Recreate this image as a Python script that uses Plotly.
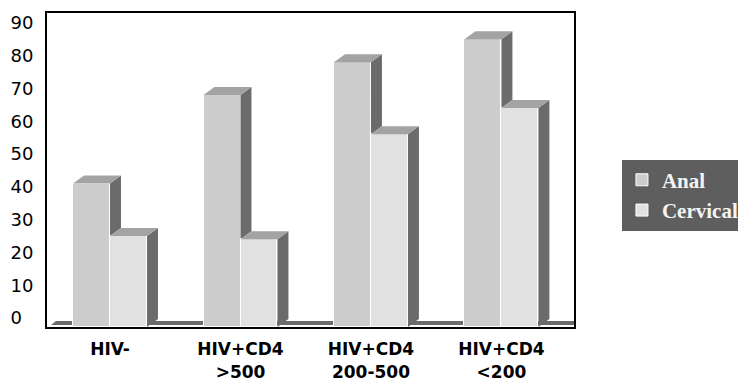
import plotly.graph_objects as go

# ---- data ----
CATEGORIES = ["HIV-", "HIV+CD4<br>&gt;500", "HIV+CD4<br>200-500", "HIV+CD4<br>&lt;200"]
ANAL = [41, 68, 78, 85]
CERVICAL = [25, 24, 56, 64]
Y_TICKS = [0, 10, 20, 30, 40, 50, 60, 70, 80, 90]
SERIES_NAMES = ["Anal", "Cervical"]

# ---- style ----
ANAL_FRONT = "#cdcdcd"
CERV_FRONT = "#e1e1e1"
SIDE = "#6b6b6b"
TOP = "#a3a3a3"
FLOOR = "#6b6b6b"
LEGEND_BG = "#5e5e5e"

Y_MIN, Y_MAX = -2.75, 93.0
X_MIN, X_MAX = -0.483, 3.556
W = 0.2835      # bar width (x units)
DX = 0.084      # depth offset, x units
DY = 2.45       # depth offset, y units

xs = list(range(len(CATEGORIES)))


def faces(values, offset, clip_values=None):
    side_x, side_y, top_x, top_y = [], [], [], []
    for i, v in enumerate(values):
        x0 = xs[i] + offset
        x1 = x0 + W
        lo = Y_MIN
        if clip_values is not None:
            lo = max(Y_MIN, min(v, clip_values[i]))
        side_x += [x1, x1 + DX, x1 + DX, x1, x1, None]
        side_y += [lo, lo + DY, v + DY, v, lo, None]
        top_x += [x0, x0 + DX, x1 + DX, x1, x0, None]
        top_y += [v, v + DY, v + DY, v, v, None]
    return side_x, side_y, top_x, top_y


fig = go.Figure()

# Anal series (base subplot)
fig.add_trace(go.Bar(
    x=xs, y=[v - Y_MIN for v in ANAL], base=Y_MIN, width=W, offset=-W,
    name="<b>" + SERIES_NAMES[0] + "</b>", marker=dict(color=ANAL_FRONT, line=dict(color="white", width=1)),
    xaxis="x", yaxis="y", hoverinfo="skip"))
sx, sy, tx, ty = faces(ANAL, -W, clip_values=CERVICAL)
fig.add_trace(go.Scatter(x=sx, y=sy, fill="toself", fillcolor=SIDE, mode="lines",
                         line=dict(width=0, color=SIDE), showlegend=False, hoverinfo="skip",
                         xaxis="x", yaxis="y"))
fig.add_trace(go.Scatter(x=tx, y=ty, fill="toself", fillcolor=TOP, mode="lines",
                         line=dict(width=0, color=TOP), showlegend=False, hoverinfo="skip",
                         xaxis="x", yaxis="y"))

# Cervical series (overlay subplot, drawn on top)
fig.add_trace(go.Bar(
    x=xs, y=[v - Y_MIN for v in CERVICAL], base=Y_MIN, width=W, offset=0,
    name="<b>" + SERIES_NAMES[1] + "</b>", marker=dict(color=CERV_FRONT, line=dict(color="white", width=1)),
    xaxis="x2", yaxis="y2", hoverinfo="skip"))
sx, sy, tx, ty = faces(CERVICAL, 0)
fig.add_trace(go.Scatter(x=sx, y=sy, fill="toself", fillcolor=SIDE, mode="lines",
                         line=dict(width=0, color=SIDE), showlegend=False, hoverinfo="skip",
                         xaxis="x2", yaxis="y2"))
fig.add_trace(go.Scatter(x=tx, y=ty, fill="toself", fillcolor=TOP, mode="lines",
                         line=dict(width=0, color=TOP), showlegend=False, hoverinfo="skip",
                         xaxis="x2", yaxis="y2"))

# floor strip
fig.add_shape(type="path", xref="paper", yref="paper", layer="below",
              path="M 0.0076 0.006 L 1 0.006 L 1 0.019 L 0.017 0.019 Z",
              fillcolor=FLOOR, line=dict(width=0))

# page body has an 8px margin: figure is 738x378 placed at (8, 8)
fig.update_layout(
    width=738, height=378,
    margin=dict(l=39, r=172, t=5, b=59, autoexpand=False),
    paper_bgcolor="white", plot_bgcolor="white",
    showlegend=True,
    legend=dict(
        x=1.091, xanchor="left", y=0.42, yanchor="middle",
        bgcolor=LEGEND_BG, borderwidth=0,
        font=dict(family="Liberation Serif", size=21, color="#f4f4f4"),
        itemwidth=30, tracegroupgap=0,
    ),
    xaxis=dict(
        range=[X_MIN, X_MAX], tickmode="array", tickvals=xs, ticktext=CATEGORIES,
        showgrid=False, zeroline=False, showline=True, mirror=True,
        linecolor="black", linewidth=2, ticks="",
        tickfont=dict(family="DejaVu Sans", size=17, color="black", weight="bold"),
        ticklabelstandoff=6,
    ),
    yaxis=dict(
        range=[Y_MIN, Y_MAX], tickmode="array", tickvals=Y_TICKS,
        ticktext=[str(t) + ("\u2007" if t < 10 else "") for t in Y_TICKS],
        showgrid=False, zeroline=False, showline=True, mirror=True,
        linecolor="black", linewidth=2, ticks="",
        tickfont=dict(family="DejaVu Sans", size=18, color="black"),
        ticklabelstandoff=8,
    ),
    xaxis2=dict(overlaying="x", matches="x", visible=False, range=[X_MIN, X_MAX]),
    yaxis2=dict(overlaying="y", matches="y", visible=False, range=[Y_MIN, Y_MAX]),
    bargap=0,
)

fig.write_html("out.html")
